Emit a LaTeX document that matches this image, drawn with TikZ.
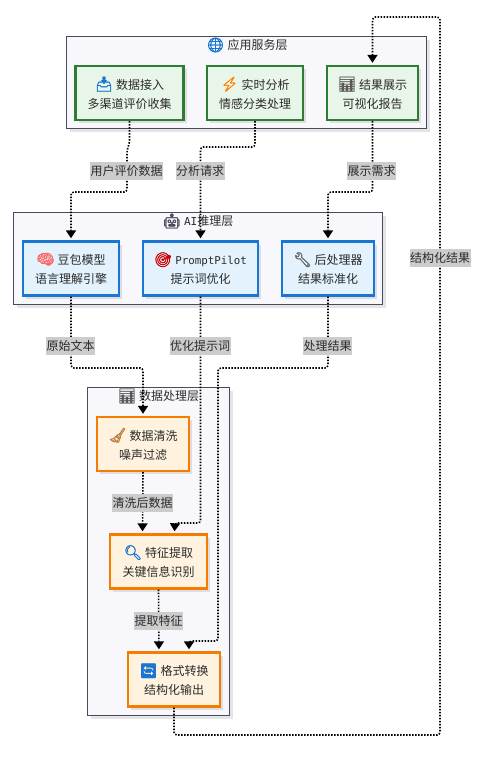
\documentclass[tikz,border=0pt]{standalone}
\usepackage{fontspec}
\setmainfont{Noto Sans CJK SC}
\newfontfamily\codefont{DejaVu Sans Mono}
\newfontfamily\emojifont[FakeBold=2,Scale=1.2]{Noto Emoji}
\usetikzlibrary{arrows.meta,shadows}
\definecolor{appgreen}{HTML}{2E7D32}
\definecolor{appfill}{HTML}{E8F5E9}
\definecolor{aiblue}{HTML}{1976D2}
\definecolor{aifill}{HTML}{E3F2FD}
\definecolor{dataorange}{HTML}{F57C00}
\definecolor{datafill}{HTML}{FFF3E0}
\definecolor{layerline}{HTML}{4A4A5E}
\definecolor{layerfill}{HTML}{F8F8FC}
\definecolor{inktext}{HTML}{2B2B2B}
\newcommand{\emo}[2]{\textcolor{#1}{{\emojifont #2}}\hspace{3pt}}
\tikzset{
  softshadow/.style={drop shadow={shadow xshift=3pt,shadow yshift=-3pt,fill=black,opacity=0.1}},
  layerbox/.style={draw=layerline,fill=layerfill,line width=1.8pt,softshadow,inner sep=0pt},
  layertitle/.style={text=inktext,font=\fontsize{12}{14}\selectfont,inner sep=0pt},
  cardbox/.style={line width=2.4pt,softshadow,align=center,text=inktext,inner sep=0pt,minimum height=54pt,
    font=\fontsize{12}{19}\selectfont},
  appcard/.style={cardbox,draw=appgreen,fill=appfill},
  aicard/.style={cardbox,draw=aiblue,fill=aifill},
  datacard/.style={cardbox,draw=dataorange,fill=datafill},
  flowedge/.style={black,line width=1.6pt,dash pattern=on 1.5pt off 1.5pt,rounded corners=3pt,
    -{Triangle[length=8pt,width=10pt]}},
  flowlabel/.style={fill=black!20,text=inktext,inner xsep=0.5pt,inner ysep=0pt,minimum height=18pt,
    font=\fontsize{12}{14}\selectfont},
}
\begin{document}
\begin{tikzpicture}[x=1pt,y=-1pt]
  \useasboundingbox (0,0) rectangle (500,766);
  \node[layerbox,minimum width=360pt,minimum height=92pt] (appLayer) at (246.5,82.5) {};
  \node[layerbox,minimum width=369pt,minimum height=92pt] (aiLayer) at (198,258.5) {};
  \node[layerbox,minimum width=142pt,minimum height=328pt] (dataLayer) at (158.5,551.5) {};
  \node[layertitle] (appTitle) at (247,45) {\emo{aiblue}{🌐}应用服务层};
  \node[layertitle] (aiTitle) at (198,221) {\emo{layerline}{🤖}{\codefont\fontsize{11}{14}\selectfont AI}推理层};
  \node[layertitle] (dataTitle) at (158.5,396) {\emo{black!65}{📊}数据处理层};

  \node[appcard,minimum width=108pt] (intake) at (129.5,93) {\emo{aiblue}{📥}数据接入\\多渠道评价收集};
  \node[appcard,minimum width=96pt] (realtime) at (255,93) {\emo{orange}{⚡}实时分析\\情感分类处理};
  \node[appcard,minimum width=91pt] (report) at (372.5,93) {\emo{black!65}{📊}结果展示\\可视化报告};
  \node[aicard,minimum width=96pt] (doubao) at (71,268.5) {\emo{red!60}{🧠}豆包模型\\语言理解引擎};
  \node[aicard,minimum width=115pt] (pilot) at (200.5,268.5) {\emo{red!80!black}{🎯}{\codefont\fontsize{10.8}{19}\selectfont PromptPilot}\\提示词优化};
  \node[aicard,minimum width=92pt] (postproc) at (328,268.5) {\emo{black!60}{🔧}后处理器\\结果标准化};
  \node[datacard,minimum width=92pt] (clean) at (143,444) {\emo{brown}{🧹}数据清洗\\噪声过滤};
  \node[datacard,minimum width=97pt] (extract) at (158.5,561.5) {\emo{aiblue}{🔍}特征提取\\关键信息识别};
  \node[datacard,minimum width=92pt] (convert) at (174,679.5) {\emo{aiblue}{🔄}格式转换\\结构化输出};

  \draw[flowedge] (intake.south) -- (129.5,143) -- (127,150) -- (127,192) -- (71,192) -- ([yshift=2pt]doubao.north);
  \draw[flowedge] (realtime.south) -- (255,147) -- (200.5,147) -- ([yshift=2pt]pilot.north);
  \draw[flowedge] (report.south) -- (372.5,192) -- (328,192) -- ([yshift=2pt]postproc.north);
  \draw[flowedge] (doubao.south) -- (71,368) -- (143,368) -- ([yshift=2pt]clean.north);
  \draw[flowedge] (pilot.south) -- (200.5,523) -- (175,523) -- ([xshift=16pt,yshift=2pt]extract.north);
  \draw[flowedge] (postproc.south) -- (328,368) -- (218,368) -- (218,641) -- (189,641) -- ([xshift=15pt,yshift=2pt]convert.north);
  \draw[flowedge] (clean.south) -- ([xshift=-16pt,yshift=2pt]extract.north);
  \draw[flowedge] (extract.south) -- ([xshift=-15pt,yshift=2pt]convert.north);
  \draw[flowedge] (convert.south) -- (174,735) -- (440,735) -- (440,17) -- (372.5,17) -- ([yshift=2pt]report.north);

  \node[flowlabel] (reviewLabel) at (126.5,171) {用户评价数据};
  \node[flowlabel] (requestLabel) at (200,171) {分析请求};
  \node[flowlabel] (showLabel) at (371.5,171) {展示需求};
  \node[flowlabel] (rawLabel) at (70.5,346) {原始文本};
  \node[flowlabel] (promptLabel) at (200,346) {优化提示词};
  \node[flowlabel] (resultLabel) at (327.5,346) {处理结果};
  \node[flowlabel] (cleanLabel) at (142.5,503) {清洗后数据};
  \node[flowlabel] (featureLabel) at (158.5,621) {提取特征};
  \node[flowlabel] (outputLabel) at (440,258) {结构化结果};
\end{tikzpicture}
\end{document}
